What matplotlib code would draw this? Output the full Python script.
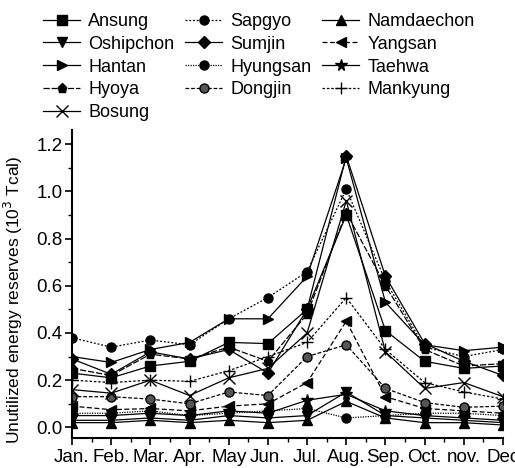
import matplotlib
matplotlib.use("Agg")
import matplotlib.pyplot as plt
from matplotlib.ticker import MultipleLocator, FormatStrFormatter

plt.rcParams['font.family'] = ['Liberation Sans', 'DejaVu Sans']

months = ["Jan.", "Feb.", "Mar.", "Apr.", "May", "Jun.", "Jul.", "Aug.", "Sep.", "Oct.", "nov.", "Dec"]

ansung     = [0.23, 0.21, 0.26, 0.28, 0.36, 0.355, 0.50, 0.90, 0.41, 0.28, 0.25, 0.26]
sapgyo     = [0.38, 0.34, 0.37, 0.35, 0.46, 0.55, 0.66, 1.01, 0.62, 0.34, 0.30, 0.33]
namdaechon = [0.02, 0.02, 0.03, 0.02, 0.03, 0.02, 0.03, 0.11, 0.04, 0.02, 0.02, 0.01]
oshipchon  = [0.03, 0.03, 0.04, 0.03, 0.05, 0.04, 0.05, 0.15, 0.05, 0.04, 0.03, 0.02]
sumjin     = [0.29, 0.225, 0.32, 0.29, 0.33, 0.23, 0.50, 1.15, 0.64, 0.355, 0.28, 0.22]
yangsan    = [0.09, 0.075, 0.08, 0.07, 0.09, 0.10, 0.19, 0.45, 0.13, 0.08, 0.07, 0.06]
hantan     = [0.30, 0.275, 0.33, 0.36, 0.46, 0.46, 0.64, 1.14, 0.53, 0.35, 0.325, 0.34]
hyungsan   = [0.06, 0.06, 0.07, 0.05, 0.06, 0.07, 0.08, 0.04, 0.05, 0.06, 0.06, 0.05]
taehwa     = [0.05, 0.05, 0.06, 0.05, 0.07, 0.06, 0.115, 0.14, 0.07, 0.05, 0.04, 0.03]
hyoya      = [0.25, 0.22, 0.31, 0.29, 0.34, 0.28, 0.48, 0.91, 0.60, 0.33, 0.26, 0.27]
dongjin    = [0.13, 0.13, 0.12, 0.10, 0.15, 0.135, 0.30, 0.35, 0.165, 0.105, 0.085, 0.09]
mankyung   = [0.20, 0.19, 0.20, 0.195, 0.24, 0.30, 0.36, 0.55, 0.33, 0.19, 0.15, 0.12]
bosung     = [0.16, 0.145, 0.20, 0.135, 0.21, 0.25, 0.40, 0.96, 0.32, 0.165, 0.19, 0.13]

series = [
    ("Ansung", ansung, 's', '-', 'k'),
    ("Sapgyo", sapgyo, 'o', (0, (1.5, 1.5)), 'k'),
    ("Namdaechon", namdaechon, '^', '-', 'k'),
    ("Oshipchon", oshipchon, 'v', '-', 'k'),
    ("Sumjin", sumjin, 'D', '-', 'k'),
    ("Yangsan", yangsan, '<', (0, (4, 2)), 'k'),
    ("Hantan", hantan, '>', '-', 'k'),
    ("Hyungsan", hyungsan, 'o', (0, (1, 1)), 'k'),
    ("Taehwa", taehwa, '*', '-', 'k'),
    ("Hyoya", hyoya, 'p', (0, (5, 1.5)), 'k'),
    ("Dongjin", dongjin, 'o', (0, (3, 1.5)), '#555555'),
    ("Mankyung", mankyung, '+', (0, (2, 1.5)), 'k'),
    ("Bosung", bosung, 'x', '-', 'k'),
]

fig = plt.figure(figsize=(5.15, 4.68), dpi=100)
ax = fig.add_axes([72/515, 30/468, (503-72)/515, (438-130)/468])

x = list(range(len(months)))
handles = {}
for name, vals, mk, ls, mc in series:
    ms = 6.5
    if mk == '*':
        ms = 8.5
    if mk in ('+', 'x'):
        ms = 8
    if mk == 'D':
        ms = 6
    kw = dict(marker=mk, linestyle=ls, color='k', linewidth=0.9, markersize=ms,
              markerfacecolor=mc, markeredgecolor='k', label=name)
    if mk in ('+', 'x'):
        kw['markeredgewidth'] = 1.0
    line, = ax.plot(x, vals, **kw)
    handles[name] = line

ax.set_xlim(0, 11)
ax.set_ylim(-0.045, 1.26)
ax.set_xticks(x)
ax.set_xticklabels(months, fontsize=13.5)
ax.xaxis.set_minor_locator(MultipleLocator(0.5))
ax.yaxis.set_major_locator(MultipleLocator(0.2))
ax.yaxis.set_minor_locator(MultipleLocator(0.1))
ax.yaxis.set_major_formatter(FormatStrFormatter('%.1f'))
ax.tick_params(axis='y', labelsize=13.5, pad=2)
ax.tick_params(axis='x', pad=3)
ax.tick_params(which='major', direction='out', length=5, width=1.2)
ax.tick_params(which='minor', direction='out', length=3, width=1.0)
for s in ('top', 'right'):
    ax.spines[s].set_visible(False)
for s in ('left', 'bottom'):
    ax.spines[s].set_linewidth(1.5)
ax.set_ylabel("Unutilized energy reserves (10$^3$ Tcal)", fontsize=12.5)
ax.yaxis.set_label_coords(-0.108, 0.45)

order = ["Ansung", "Oshipchon", "Hantan", "Hyoya", "Bosung",
         "Sapgyo", "Sumjin", "Hyungsan", "Dongjin",
         "Namdaechon", "Yangsan", "Taehwa", "Mankyung"]
fig.legend([handles[n] for n in order], order, loc='upper left',
           bbox_to_anchor=(43/515, 1 - 13/468), ncol=3, frameon=False,
           fontsize=13, handlelength=2.05, handletextpad=0.45, columnspacing=0.6,
           labelspacing=0.32, borderpad=0, borderaxespad=0)

fig.savefig("out.png", dpi=100)
